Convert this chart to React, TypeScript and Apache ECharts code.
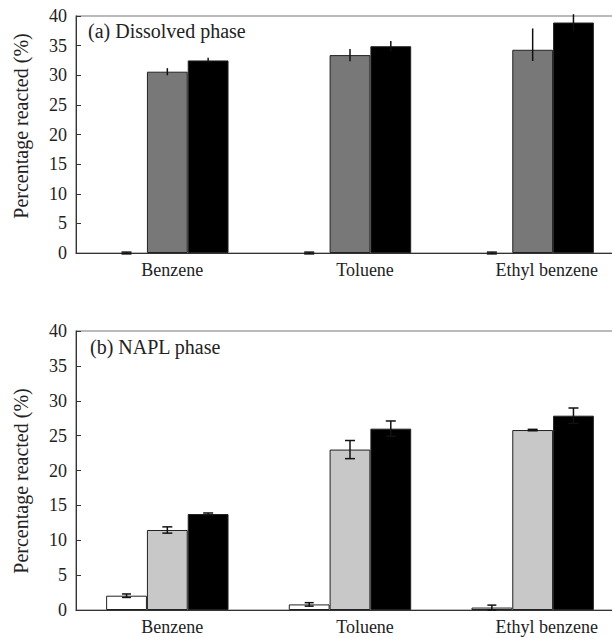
import React, { useEffect, useRef } from "react";
import * as echarts from "echarts";

const categories = ["Benzene", "Toluene", "Ethyl benzene"];
const yTicks = [0, 5, 10, 15, 20, 25, 30, 35, 40];

// Panel (a) Dissolved phase
const dissolvedWhite = [0, 0, 0];
const dissolvedWhiteErrLow = [0.15, 0.15, 0.15];
const dissolvedWhiteErrHigh = [0.15, 0.15, 0.15];
const dissolvedGray = [30.6, 33.4, 34.3];
const dissolvedGrayErrLow = [0.6, 1.05, 1.9];
const dissolvedGrayErrHigh = [0.6, 1.05, 3.6];
const dissolvedBlack = [32.5, 34.9, 38.9];
const dissolvedBlackErrLow = [0.45, 0.9, 1.4];
const dissolvedBlackErrHigh = [0.45, 0.9, 1.4];

// Panel (b) NAPL phase
const naplWhite = [2.05, 0.8, 0.35];
const naplWhiteErr = [0.25, 0.25, 0.35];
const naplGray = [11.47, 23.0, 25.8];
const naplGrayErr = [0.45, 1.3, 0.1];
const naplBlack = [13.76, 26.0, 27.86];
const naplBlackErr = [0.15, 1.1, 1.1];

const labelShift = [10, 30, 28];

const FONT = "Liberation Serif, Times New Roman, serif";
const GAP = 0.33;

export default function App() {
  const ref = useRef<HTMLDivElement>(null);
  useEffect(() => {
    if (!ref.current) return;
    const chart = echarts.init(ref.current, null, { renderer: "svg" });

    const grids = [
      { left: 76, top: 16, width: 548, height: 237 },
      { left: 76, top: 331, width: 548, height: 279 },
    ];

    const richStyle = (shift: number) => ({
      padding: [0, 0, 0, shift],
      fontFamily: FONT,
      fontSize: 18,
      color: "#222",
    });

    const xAxis = grids.map((_, i) => ({
      type: "category",
      gridIndex: i,
      data: categories,
      axisLine: { lineStyle: { color: "#333", width: 1 } },
      axisTick: { inside: true, length: 5, lineStyle: { color: "#333" } },
      axisLabel: {
        interval: 0,
        hideOverlap: false,
        margin: 8,
        fontFamily: FONT,
        fontSize: 18,
        color: "#222",
        formatter: (v: string) => {
          const idx = categories.indexOf(v);
          return `{s${idx}|${v}}`;
        },
        rich: {
          s0: richStyle(labelShift[0]),
          s1: richStyle(labelShift[1]),
          s2: richStyle(labelShift[2]),
        },
      },
      splitLine: { show: false },
    }));

    const yAxis = grids.map((_, i) => ({
      type: "value",
      gridIndex: i,
      min: yTicks[0],
      max: yTicks[yTicks.length - 1],
      interval: 5,
      axisLine: { show: true, lineStyle: { color: "#333", width: 1 } },
      axisTick: { show: true, inside: true, length: 5, lineStyle: { color: "#333" } },
      axisLabel: { margin: 9, fontFamily: FONT, fontSize: 18, color: "#222" },
      splitLine: { show: false },
    }));

    const barSeries = (data: number[], color: string, gi: number) => ({
      type: "bar",
      xAxisIndex: gi,
      yAxisIndex: gi,
      data: data.map((v) => ({
        value: v,
        itemStyle: { color, borderColor: "#222", borderWidth: v === 0 ? 0 : 1 },
      })),
      barGap: "0%",
      barCategoryGap: `${GAP * 100}%`,
      silent: true,
    });

    const errSeries = (
      values: number[],
      lo: number[],
      hi: number[],
      pos: number,
      gi: number,
      capW: number
    ) => ({
      type: "custom",
      xAxisIndex: gi,
      yAxisIndex: gi,
      clip: false,
      silent: true,
      z: 5,
      data: values.map((v, i) => [i, v, v - lo[i], v + hi[i]]),
      encode: { x: 0, y: [1, 2, 3] },
      renderItem: (params: any, api: any) => {
        const idx = api.value(0);
        const band = api.size([1, 0])[0];
        const barW = (band * (1 - GAP)) / 3;
        const cx = api.coord([idx, 0])[0] + (pos - 1) * barW;
        const yLo = api.coord([idx, api.value(2)])[1];
        const yHi = api.coord([idx, api.value(3)])[1];
        const style = { stroke: "#111", lineWidth: 1.5 };
        const children: any[] = [
          { type: "line", shape: { x1: cx, y1: yLo, x2: cx, y2: yHi }, style },
        ];
        if (capW > 0) {
          children.push(
            { type: "line", shape: { x1: cx - capW / 2, y1: yLo, x2: cx + capW / 2, y2: yLo }, style },
            { type: "line", shape: { x1: cx - capW / 2, y1: yHi, x2: cx + capW / 2, y2: yHi }, style }
          );
        }
        return { type: "group", children };
      },
    });

    const option: any = {
      animation: false,
      backgroundColor: "#fff",
      grid: grids.map((g) => ({ ...g, show: true, borderColor: "#777", borderWidth: 1.2, backgroundColor: "transparent" })),
      xAxis,
      yAxis,
      series: [
        barSeries(dissolvedWhite, "#ffffff", 0),
        barSeries(dissolvedGray, "#787878", 0),
        barSeries(dissolvedBlack, "#000000", 0),
        errSeries(dissolvedWhite, dissolvedWhiteErrLow, dissolvedWhiteErrHigh, 0, 0, 10),
        errSeries(dissolvedGray, dissolvedGrayErrLow, dissolvedGrayErrHigh, 1, 0, 0),
        errSeries(dissolvedBlack, dissolvedBlackErrLow, dissolvedBlackErrHigh, 2, 0, 0),
        barSeries(naplWhite, "#ffffff", 1),
        barSeries(naplGray, "#c8c8c8", 1),
        barSeries(naplBlack, "#000000", 1),
        errSeries(naplWhite, naplWhiteErr, naplWhiteErr, 0, 1, 9),
        errSeries(naplGray, naplGrayErr, naplGrayErr, 1, 1, 10),
        errSeries(naplBlack, naplBlackErr, naplBlackErr, 2, 1, 10),
      ],
      graphic: [
        {
          type: "text",
          left: 88,
          top: 21,
          style: { text: "(a) Dissolved phase", fontFamily: FONT, fontSize: 20, fill: "#222" },
        },
        {
          type: "text",
          left: 90,
          top: 337,
          style: { text: "(b) NAPL phase", fontFamily: FONT, fontSize: 20, fill: "#222" },
        },
        {
          type: "text",
          x: 21,
          y: 126,
          rotation: Math.PI / 2,
          style: {
            text: "Percentage reacted (%)",
            fontFamily: FONT,
            fontSize: 20,
            fill: "#222",
            align: "center",
            verticalAlign: "middle",
          },
        },
        {
          type: "text",
          x: 21,
          y: 481,
          rotation: Math.PI / 2,
          style: {
            text: "Percentage reacted (%)",
            fontFamily: FONT,
            fontSize: 20,
            fill: "#222",
            align: "center",
            verticalAlign: "middle",
          },
        },
      ],
    };

    chart.setOption(option);
    return () => chart.dispose();
  }, []);

  return (
    <div
      style={{ position: "fixed", left: 0, top: 0, width: 612, height: 638, overflow: "hidden", background: "#fff" }}
    >
      <div ref={ref} style={{ width: 640, height: 638 }} />
    </div>
  );
}
